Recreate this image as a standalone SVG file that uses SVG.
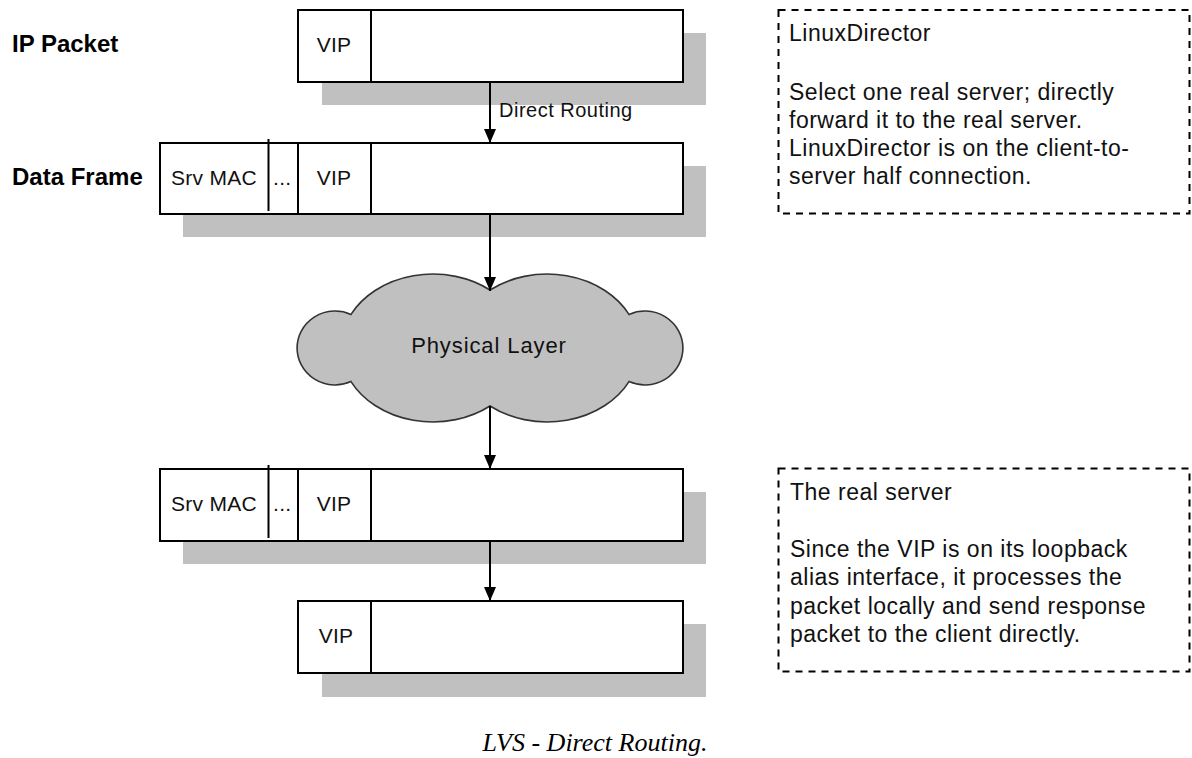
<svg xmlns="http://www.w3.org/2000/svg" width="1192" height="758" viewBox="0 0 1192 758">
<style>
.bg{fill:#ffffff}
.shadow{fill:#c0c0c0;stroke:none}
.box{fill:#ffffff;stroke:#000000;stroke-width:2}
.div{stroke:#000000;stroke-width:2;fill:none}
.lbl{font-family:"Liberation Sans",Arial,sans-serif;font-size:24px;font-weight:bold;fill:#000}
.cell{font-family:"Liberation Sans",Arial,sans-serif;font-size:21px;letter-spacing:0.3px;fill:#111}
.note{font-family:"Liberation Sans",Arial,sans-serif;font-size:23px;letter-spacing:0.5px;fill:#111}
.small{font-family:"Liberation Sans",Arial,sans-serif;font-size:20px;letter-spacing:0.5px;fill:#111}
.dash{fill:#ffffff;stroke:#000000;stroke-width:2;stroke-dasharray:7 6}
.conn{stroke:#000000;stroke-width:2;fill:none}
.cloud{fill:#c0c0c0;stroke:#333333;stroke-width:1.6}
.cap{font-family:"Liberation Serif","Times New Roman",serif;font-style:italic;font-size:26px;fill:#000}
</style>
<defs>
<marker id="ah" markerUnits="userSpaceOnUse" viewBox="0 0 14 12" refX="14" refY="6" markerWidth="14" markerHeight="12" orient="auto">
<path d="M0,0 L14,6 L0,12 z" fill="#000"/>
</marker>
</defs>
<rect class="bg" x="0" y="0" width="1192" height="758"/>

<text class="lbl" x="12" y="52">IP Packet</text>
<text class="lbl" x="12" y="185">Data Frame</text>

<g id="ip-packet">
<rect class="shadow" x="322" y="33" width="384" height="72"/>
<rect class="box" x="298" y="10" width="385" height="72"/>
<line class="div" x1="371" y1="10" x2="371" y2="82"/>
<text class="cell" x="334" y="52" text-anchor="middle">VIP</text>
</g>

<g id="data-frame">
<rect class="shadow" x="183" y="166" width="523" height="71"/>
<rect class="box" x="160" y="143" width="523" height="71"/>
<line class="div" x1="268.5" y1="139" x2="268.5" y2="211"/>
<line class="div" x1="298" y1="143" x2="298" y2="214"/>
<line class="div" x1="371" y1="143" x2="371" y2="214"/>
<text class="cell" x="214" y="185" text-anchor="middle">Srv MAC</text>
<text class="cell" x="273" y="185">...</text>
<text class="cell" x="334" y="185" text-anchor="middle">VIP</text>
</g>

<g id="physical-layer">
<path class="cloud" d="M490,290 A92,74 0 0 0 351,314.4 A38,37 0 1 0 351,381.6 A92,74 0 0 0 490,406 A92,74 0 0 0 629,381.6 A38,37 0 1 0 629,314.4 A92,74 0 0 0 490,290 Z"/>
<text class="note" x="489" y="353" text-anchor="middle" style="font-size:22px;letter-spacing:0.9px">Physical Layer</text>
</g>

<g id="received-frame">
<rect class="shadow" x="183" y="492" width="523" height="72"/>
<rect class="box" x="160" y="469" width="523" height="72"/>
<line class="div" x1="268.5" y1="465" x2="268.5" y2="538"/>
<line class="div" x1="298" y1="469" x2="298" y2="541"/>
<line class="div" x1="371" y1="469" x2="371" y2="541"/>
<text class="cell" x="214" y="511" text-anchor="middle">Srv MAC</text>
<text class="cell" x="273" y="511">...</text>
<text class="cell" x="334" y="511" text-anchor="middle">VIP</text>
</g>

<g id="received-packet">
<rect class="shadow" x="322" y="624" width="384" height="73"/>
<rect class="box" x="298" y="601" width="385" height="72"/>
<line class="div" x1="371" y1="601" x2="371" y2="673"/>
<text class="cell" x="336" y="643" text-anchor="middle">VIP</text>
</g>

<g id="connectors">
<line class="conn" x1="490" y1="82" x2="490" y2="143" marker-end="url(#ah)"/>
<line class="conn" x1="490" y1="214" x2="490" y2="291" marker-end="url(#ah)"/>
<line class="conn" x1="490" y1="406" x2="490" y2="469" marker-end="url(#ah)"/>
<line class="conn" x1="490" y1="541" x2="490" y2="601" marker-end="url(#ah)"/>
<text class="small" x="499" y="117">Direct Routing</text>
</g>

<g id="note-director">
<rect class="dash" x="778.5" y="10" width="411" height="203.5"/>
<text class="note" x="789" y="41">LinuxDirector</text>
<text class="note" x="789" y="99.5">Select one real server; directly</text>
<text class="note" x="789" y="127.5">forward it to the real server.</text>
<text class="note" x="789" y="155.7">LinuxDirector is on the client-to-</text>
<text class="note" x="789" y="184">server half connection.</text>
</g>

<g id="note-server">
<rect class="dash" x="778.5" y="468.5" width="411" height="203"/>
<text class="note" x="790" y="500">The real server</text>
<text class="note" x="790" y="557">Since the VIP is on its loopback</text>
<text class="note" x="790" y="585.2">alias interface, it processes the</text>
<text class="note" x="790" y="613.5">packet locally and send response</text>
<text class="note" x="790" y="642">packet to the client directly.</text>
</g>

<text class="cap" x="595" y="751" text-anchor="middle">LVS - Direct Routing.</text>
</svg>
